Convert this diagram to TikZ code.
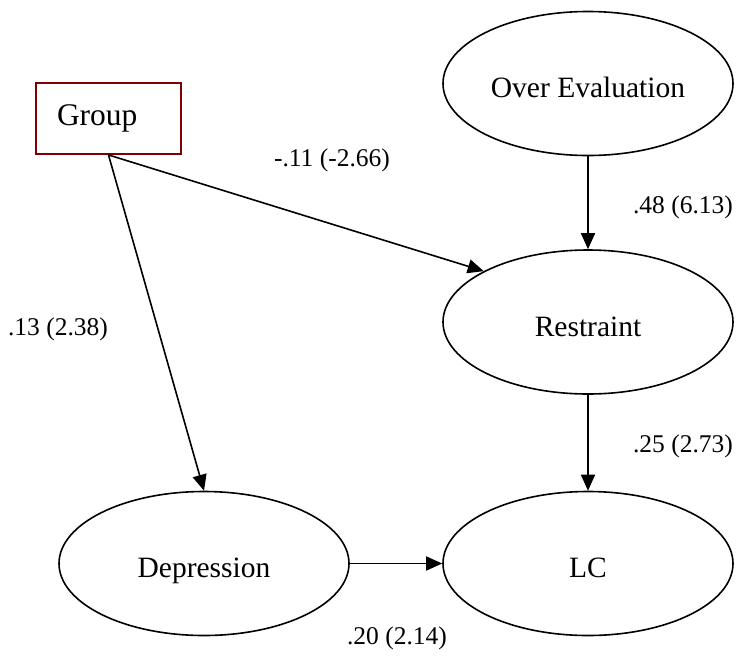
\documentclass[tikz,border=0pt]{standalone}
\usepackage{fontspec}
\setmainfont{Liberation Serif}
\usetikzlibrary{arrows.meta,shapes.geometric}
\definecolor{grpred}{RGB}{128,0,0}
\begin{document}
\begin{tikzpicture}[x=1pt,y=-1pt,
 latent/.style={ellipse, draw, line width=1.6pt, minimum width=290pt, minimum height=144pt, inner sep=0pt, font=\fontsize{29.5}{30}\selectfont, text height=28pt, text depth=0pt},
 obs/.style={rectangle, draw=grpred, line width=1.9pt, minimum height=71pt, text width=103pt, inner xsep=21pt, inner ysep=0pt, align=left, font=\fontsize{31.5}{32}\selectfont, text height=13pt, text depth=0pt},
 pathar/.style={line width=1.6pt, -{Triangle[length=16pt,width=14pt]}},
 coef/.style={font=\fontsize{25.5}{26}\selectfont, inner sep=0pt}]
\useasboundingbox (0,0) rectangle (741,657);
\node[obs] (G) at (108.5,118.5) {Group};
\node[latent] (OE) at (588,83.5) {Over Evaluation};
\node[latent] (R) at (588,322) {Restraint};
\node[latent] (LC) at (588,563.5) {LC};
\node[latent] (D) at (204,563.5) {Depression};
\draw[pathar] (G.south) -- (D.north);
\draw[pathar] (G.south) -- (R.154);
\draw[pathar] (OE) -- (R);
\draw[pathar] (R) -- (LC);
\draw[pathar] (D) -- (LC);
\node[coef] (c1) at (332,160) {-.11 (-2.66)};
\node[coef] (c2) at (683,207) {.48 (6.13)};
\node[coef] (c3) at (58,329) {.13 (2.38)};
\node[coef] (c4) at (683,446) {.25 (2.73)};
\node[coef] (c5) at (397,638) {.20 (2.14)};
\end{tikzpicture}
\end{document}
